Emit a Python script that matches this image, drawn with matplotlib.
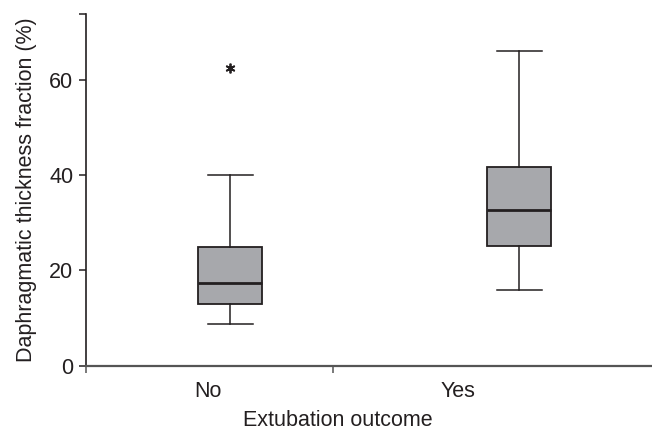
import matplotlib
matplotlib.use('Agg')
import matplotlib.pyplot as plt

# 数据
groups = ['No', 'Yes']
whisker_low = [8.7, 16.0]
q1 = [12.9, 25.1]
median = [17.4, 32.6]
q3 = [24.9, 41.8]
whisker_high = [40.0, 66.1]
outliers = [[62.5], []]

plt.rcParams['font.family'] = ['Liberation Sans', 'DejaVu Sans']
dark = '#231f20'
fs = 15.5

fig = plt.figure(figsize=(6.52, 4.33), dpi=100)
ax = fig.add_axes([0.1319, 0.1554, 0.8681, 0.8116])

stats = []
for i, g in enumerate(groups):
    stats.append(dict(label=g, whislo=whisker_low[i], q1=q1[i], med=median[i],
                      q3=q3[i], whishi=whisker_high[i], fliers=outliers[i]))

ax.bxp(stats, positions=[1, 2], widths=0.222, patch_artist=True,
       boxprops=dict(facecolor='#a7a8ac', edgecolor=dark, linewidth=1.3),
       medianprops=dict(color=dark, linewidth=2),
       whiskerprops=dict(color=dark, linewidth=1.1),
       capprops=dict(color=dark, linewidth=1.1),
       capwidths=0.155,
       flierprops=dict(marker=(6, 2, 0), markersize=7, markeredgecolor=dark,
                       markerfacecolor=dark, markeredgewidth=1.3))

ax.set_xlim(0.5, 2.46)
ax.set_ylim(0, 73.8)

# 坐标轴样式
for s in ['top', 'right']:
    ax.spines[s].set_visible(False)
ax.spines['left'].set_color(dark)
ax.spines['left'].set_linewidth(1.2)
ax.spines['bottom'].set_color('#555555')
ax.spines['bottom'].set_linewidth(1.6)

ax.set_yticks([0, 20, 40, 60])
ax.set_yticks([73.8], minor=True)
ax.tick_params(axis='y', which='both', direction='out', length=5, width=1.1,
               colors=dark, labelsize=fs, pad=4)

ax.set_xticks([0.5, 1.354])
ax.set_xticklabels(['', ''])
ax.set_xticks([0.921, 1.787], minor=True)
ax.set_xticklabels(groups, minor=True)
ax.tick_params(axis='x', which='major', direction='out', length=5, width=1.1,
               color='#555555')
ax.tick_params(axis='x', which='minor', length=0, labelsize=fs, pad=11,
               labelcolor=dark)

ax.set_ylabel('Daphragmatic thickness fraction (%)', fontsize=fs, color=dark,
              labelpad=9)
ax.set_xlabel('Extubation outcome', fontsize=fs, color=dark)
ax.xaxis.set_label_coords(0.445, -0.125)

fig.savefig('out.png', dpi=100)
